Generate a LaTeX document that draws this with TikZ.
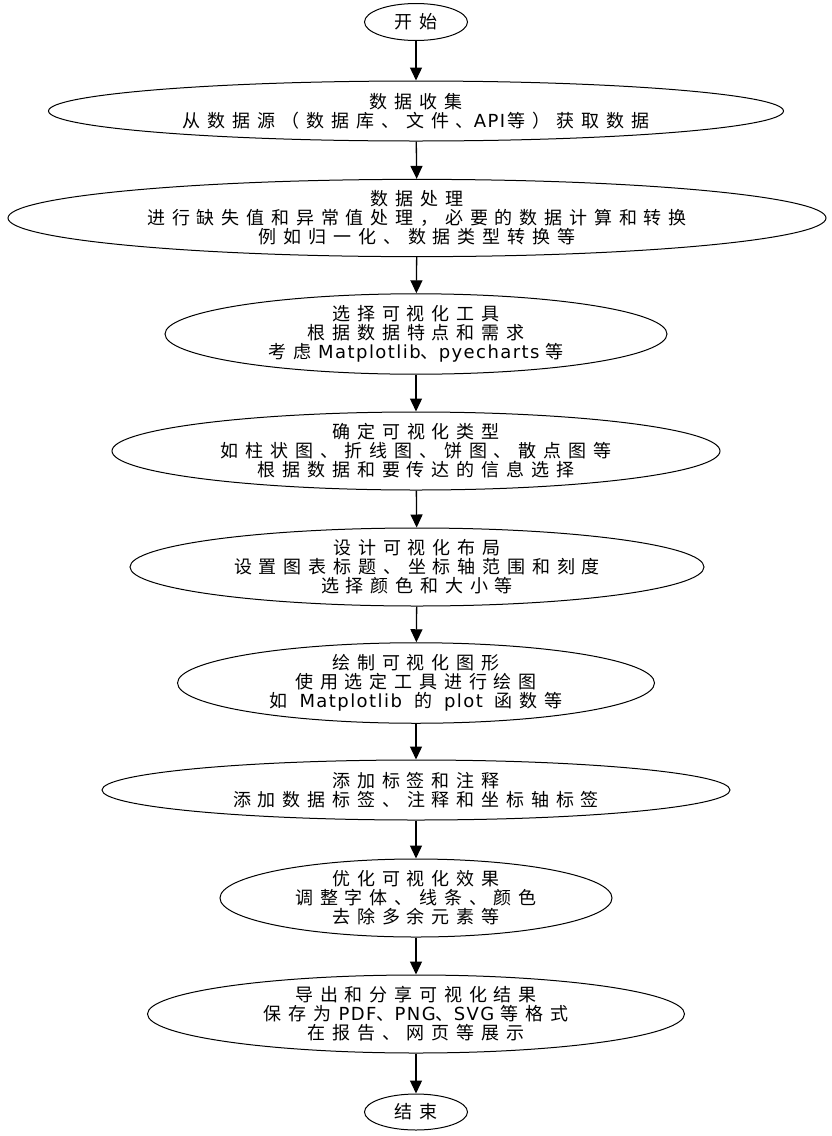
\documentclass[tikz,border=0pt]{standalone}
\usepackage{fontspec}
\newfontfamily\cjkfont{Noto Sans CJK SC}[LetterSpace=38]
\newfontfamily\latfont{DejaVu Sans}[LetterSpace=8]
\newcommand{\lt}[1]{{\latfont\fontsize{18}{19}\selectfont #1}}
\newcommand{\nodefont}{\cjkfont\fontsize{18}{19}\selectfont}
\newcommand{\tightlines}{\setlength{\baselineskip}{19pt}\setlength{\lineskiplimit}{-100pt}\setlength{\lineskip}{0pt}}
\usetikzlibrary{shapes.geometric,arrows.meta}
\begin{document}
\begin{tikzpicture}[x=1pt,y=-1pt,
  el/.style={ellipse, draw=black, line width=1pt, inner sep=0pt, align=center,
    font=\nodefont, execute at begin node=\tightlines},
  arr/.style={draw=black, line width=1.3pt, -{Triangle[length=13pt,width=12pt]}}]
\fill[white] (0,0) rectangle (832,1136);
\useasboundingbox (0,0) rectangle (832,1136);
\node[el, minimum width=103pt, minimum height=37pt] (n1) at (416,22) {开始};
\node[el, minimum width=735pt, minimum height=60pt] (n2) at (416,111) {数据收集\\从数据源（数据库、文件、\lt{API}\kern2pt 等）获取数据};
\node[el, minimum width=818pt, minimum height=76pt] (n3) at (417,218) {数据处理\\进行缺失值和异常值处理，必要的数据计算和转换\\例如归一化、数据类型转换等};
\node[el, minimum width=502pt, minimum height=78pt] (n4) at (416,334) {选择可视化工具\\根据数据特点和需求\\考虑\kern7pt\lt{Matplotlib}、\lt{pyecharts}\kern6pt 等};
\node[el, minimum width=608pt, minimum height=78pt] (n5) at (416,451) {确定可视化类型\\如柱状图、折线图、饼图、散点图等\\根据数据和要传达的信息选择};
\node[el, minimum width=574pt, minimum height=78pt] (n6) at (417,567) {设计可视化布局\\设置图表标题、坐标轴范围和刻度\\选择颜色和大小等};
\node[el, minimum width=477pt, minimum height=78pt] (n7) at (416,683) {绘制可视化图形\\使用选定工具进行绘图\\如\kern12pt\lt{Matplotlib}\kern12pt 的\kern12pt\lt{plot}\kern12pt 函数等};
\node[el, minimum width=628pt, minimum height=60pt] (n8) at (416,790) {添加标签和注释\\添加数据标签、注释和坐标轴标签};
\node[el, minimum width=392pt, minimum height=78pt] (n9) at (416,898) {优化可视化效果\\调整字体、线条、颜色\\去除多余元素等};
\node[el, minimum width=537pt, minimum height=78pt] (n10) at (416,1014) {导出和分享可视化结果\\保存为\kern7pt\lt{PDF}、\lt{PNG}、\lt{SVG}\kern6pt 等格式\\在报告、网页等展示};
\node[el, minimum width=103pt, minimum height=36pt] (n11) at (416,1112) {结束};
\draw[arr] (n1) -- (n2);
\draw[arr] (n2) -- (n3);
\draw[arr] (n3) -- (n4);
\draw[arr] (n4) -- (n5);
\draw[arr] (n5) -- (n6);
\draw[arr] (n6) -- (n7);
\draw[arr] (n7) -- (n8);
\draw[arr] (n8) -- (n9);
\draw[arr] (n9) -- (n10);
\draw[arr] (n10) -- (n11);
\end{tikzpicture}
\end{document}
